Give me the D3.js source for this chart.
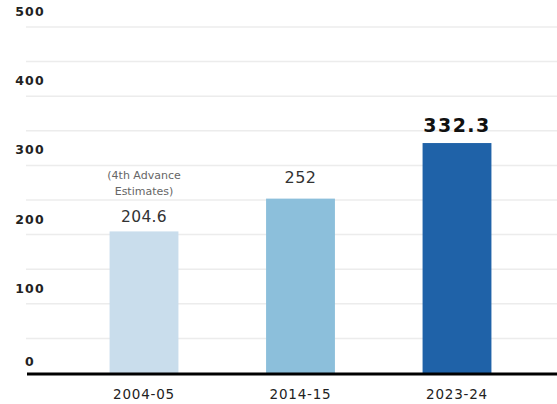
<!DOCTYPE html>
<html>
<head>
<meta charset="utf-8">
<script src="https://cdn.jsdelivr.net/npm/d3@7"></script>
<style>
  html, body { margin: 0; padding: 0; background: #fff; }
  svg { display: block; }
  text { font-family: "DejaVu Sans", sans-serif; }
</style>
</head>
<body>
<svg id="chart" width="557" height="404"></svg>
<script>
// Data
const years = ["2004-05", "2014-15", "2023-24"];
const values = [204.6, 252, 332.3];
const barColors = ["#c9ddec", "#8cbfdb", "#1f62a8"];
const yTicks = [0, 100, 200, 300, 400, 500];
const gridValues = [50, 100, 150, 200, 250, 300, 350, 400, 450, 500];
const noteLines = ["(4th Advance", "Estimates)"];

const W = 557, H = 404;
const svg = d3.select("#chart");

const y = d3.scaleLinear().domain([0, 500]).range([373, 27]);
const x = d3.scaleBand().domain(years).range([65.75, 535.25])
  .paddingInner(0.56).paddingOuter(0.28);

// Grid lines
svg.append("g").selectAll("line").data(gridValues).join("line")
  .attr("x1", 26).attr("x2", W)
  .attr("y1", d => y(d)).attr("y2", d => y(d))
  .attr("stroke", "#ececec").attr("stroke-width", 1.5);

// Y tick labels, centred above their grid lines
svg.append("g").selectAll("text").data(yTicks).join("text")
  .attr("x", 30).attr("y", d => y(d) - (d === 0 ? 7 : 11))
  .attr("text-anchor", "middle")
  .attr("font-size", 12.5).attr("font-weight", "bold").attr("fill", "#222")
  .attr("letter-spacing", 1.2)
  .text(d => d);

// Bars
svg.append("g").selectAll("rect").data(values).join("rect")
  .attr("x", (d, i) => x(years[i]))
  .attr("width", x.bandwidth())
  .attr("y", d => y(d))
  .attr("height", d => y(0) - y(d))
  .attr("fill", (d, i) => barColors[i]);

// Baseline axis
svg.append("line")
  .attr("x1", 27).attr("x2", W)
  .attr("y1", y(0) + 1).attr("y2", y(0) + 1)
  .attr("stroke", "#000").attr("stroke-width", 3);

// X axis labels
const xAxis = d3.axisBottom(x).tickSize(0).tickPadding(0);
const gx = svg.append("g").attr("transform", `translate(0,${y(0) + 26})`).call(xAxis);
gx.select(".domain").remove();
gx.selectAll("text")
  .attr("font-size", 13.5).attr("fill", "#222")
  .attr("letter-spacing", 0.8)
  .attr("dy", 0)
  .style("font-family", "\"DejaVu Sans\", sans-serif");

// Value labels
const cx = i => x(years[i]) + x.bandwidth() / 2;
const labelStyle = [
  { size: 15.5, weight: "normal", fill: "#333", gap: 9, ls: 0.3 },
  { size: 16, weight: "normal", fill: "#333", gap: 16, ls: 0.5 },
  { size: 19, weight: "bold", fill: "#111", gap: 11, ls: 1.5 }
];
values.forEach((v, i) => {
  const s = labelStyle[i];
  svg.append("text")
    .attr("x", cx(i)).attr("y", y(v) - s.gap)
    .attr("text-anchor", "middle")
    .attr("font-size", s.size)
    .attr("font-weight", s.weight)
    .attr("letter-spacing", s.ls)
    .attr("fill", s.fill)
    .text(v);
});

// Note above the first bar
svg.append("g").selectAll("text").data(noteLines).join("text")
  .attr("x", cx(0)).attr("y", (d, i) => 179 + i * 16)
  .attr("text-anchor", "middle")
  .attr("font-size", 11).attr("fill", "#666")
  .text(d => d);
</script>
</body>
</html>
